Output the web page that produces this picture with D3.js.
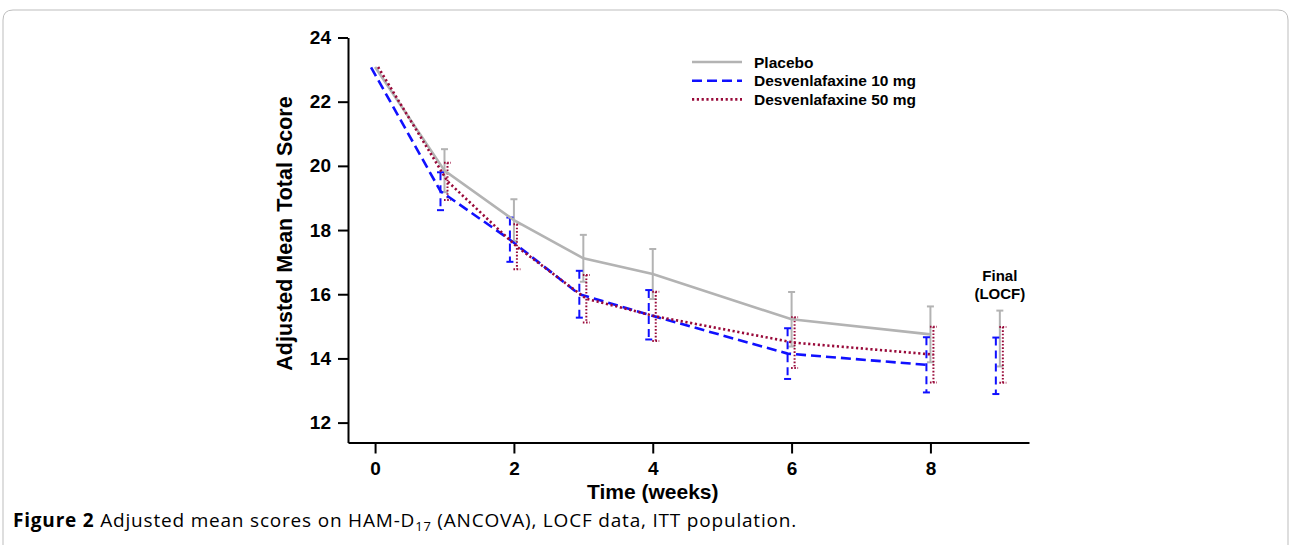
<!DOCTYPE html>
<html lang="en">
<head>
<meta charset="UTF-8">
<title>Adjusted mean scores on HAM-D17</title>
<script src="https://d3js.org/d3.v7.min.js"></script>
<style>
    body { margin: 0; background: #fff; }
    svg text { font-family: "Liberation Sans", Arial, sans-serif; }
</style>
</head>
<body>
<svg id="chart" width="1292" height="545"></svg>
<script>
// weeks with connected lines, plus the final LOCF point
const weeks = [0, 1, 2, 3, 4, 6, 8];
const finalWeek = 9;
const xTicks = [0, 2, 4, 6, 8];
const yTicks = [12, 14, 16, 18, 20, 22, 24];

const placebo    = [23.08, 19.85, 18.31, 17.12, 16.63, 15.22, 14.75];
const placeboErr = [0, 0.67, 0.65, 0.73, 0.78, 0.85, 0.87];
const dvs10      = [23.07, 19.21, 17.70, 16.00, 15.36, 14.15, 13.80];
const dvs10Err   = [0, 0.59, 0.69, 0.73, 0.77, 0.79, 0.86];
const dvs50      = [23.08, 19.52, 17.48, 15.86, 15.31, 14.49, 14.12];
const dvs50Err   = [0, 0.58, 0.70, 0.74, 0.77, 0.79, 0.87];

// final (LOCF) values: placebo, 10 mg, 50 mg
const finalMeans = [14.62, 13.77, 14.11];
const finalErrs  = [0.87, 0.88, 0.87];

const seriesNames = ["Placebo", "Desvenlafaxine 10 mg", "Desvenlafaxine 50 mg"];

const svg = d3.select("#chart");

// figure frame
svg.append("path")
    .attr("d", "M3,545 L3,20 Q3,10 13,10 L1278,10 Q1288,10 1288,20 L1288,545")
    .attr("fill", "none")
    .attr("stroke", "#bdbdbd")
    .attr("stroke-width", 1);

const x = d3.scaleLinear().domain([-0.39, 9.42]).range([348, 1029]);
const y = d3.scaleLinear().domain([11.38, 24]).range([442.5, 37.5]);

const styles = [
    { color: "#b3b3b3", dash: null,  width: 2.6, off: 0 },
    { color: "#1010ff", dash: "10,5", width: 2.6, off: -4 },
    { color: "#990a3a", dash: "2.2,2.6", width: 2.6, off: 3 }
];
const means = [placebo, dvs10, dvs50];
const errs = [placeboErr, dvs10Err, dvs50Err];

// axes
const yAxis = svg.append("g")
    .attr("transform", "translate(348,0)")
    .call(d3.axisLeft(y).tickValues(yTicks).tickSize(10).tickSizeOuter(0).tickPadding(7));
const xAxis = svg.append("g")
    .attr("transform", "translate(0,442.5)")
    .call(d3.axisBottom(x).tickValues(xTicks).tickSize(11).tickSizeOuter(0).tickPadding(8));

[xAxis, yAxis].forEach(a => {
    a.selectAll("path, line").attr("stroke", "#000").attr("stroke-width", 2);
    a.selectAll("text")
        .attr("font-size", 19)
        .attr("font-weight", "bold")
        .attr("fill", "#000")
        .style("font-family", "'Liberation Sans', Arial, sans-serif");
});

svg.append("text")
    .attr("x", x(4))
    .attr("y", 499)
    .attr("text-anchor", "middle")
    .attr("font-size", 21)
    .attr("font-weight", "bold")
    .text("Time (weeks)");

svg.append("text")
    .attr("transform", "translate(292,233.5) rotate(-90)")
    .attr("text-anchor", "middle")
    .attr("font-size", 21.5)
    .attr("font-weight", "bold")
    .text("Adjusted Mean Total Score");

// error bars
function errorBar(g, cx, m, e, st) {
    if (!e) return;
    const sw = 2;
    g.append("line")
        .attr("x1", cx).attr("x2", cx)
        .attr("y1", y(m + e)).attr("y2", y(m - e))
        .attr("stroke", st.color).attr("stroke-width", sw)
        .attr("stroke-dasharray", st.dash ? (st.off < 0 ? "8,5" : "1.6,1.8") : null);
    [m + e, m - e].forEach(v => {
        g.append("line")
            .attr("x1", cx - 3.5).attr("x2", cx + 3.5)
            .attr("y1", y(v)).attr("y2", y(v))
            .attr("stroke", st.color).attr("stroke-width", sw)
            .attr("stroke-dasharray", st.dash && st.off > 0 ? "1.6,1.6" : null);
    });
}

const line = d3.line();

means.forEach((vals, i) => {
    const st = styles[i];
    const g = svg.append("g");
    weeks.forEach((w, j) => errorBar(g, x(w) + st.off, vals[j], errs[i][j], st));
    errorBar(g, x(finalWeek) + st.off, finalMeans[i], finalErrs[i], st);
});

// lines drawn on top: placebo first, then 10 mg, then 50 mg
means.forEach((vals, i) => {
    const st = styles[i];
    svg.append("path")
        .attr("d", line(weeks.map((w, j) => [x(w) + st.off, y(vals[j])])))
        .attr("fill", "none")
        .attr("stroke", st.color)
        .attr("stroke-width", st.width)
        .attr("stroke-dasharray", st.dash);
});

// Final (LOCF) label
svg.append("text")
    .attr("text-anchor", "middle")
    .attr("font-size", 15)
    .attr("font-weight", "bold")
    .selectAll("tspan")
    .data(["Final", "(LOCF)"])
    .join("tspan")
    .attr("x", x(finalWeek))
    .attr("y", (d, i) => 281 + i * 18)
    .text(d => d);

// legend
const legend = svg.append("g");
seriesNames.forEach((name, i) => {
    const ly = 62 + i * 18.7;
    legend.append("line")
        .attr("x1", 692).attr("x2", 742)
        .attr("y1", ly).attr("y2", ly)
        .attr("stroke", styles[i].color)
        .attr("stroke-width", 2.6)
        .attr("stroke-dasharray", styles[i].dash);
    legend.append("text")
        .attr("x", 754)
        .attr("y", ly + 5.5)
        .attr("font-size", 15.5)
        .attr("font-weight", "bold")
        .text(name);
});

// caption, stretched to the width it has in the figure
const cap = svg.append("text")
    .attr("x", 13)
    .attr("y", 527)
    .attr("font-size", 19)
    .style("font-family", "'Open Sans', 'Noto Sans', sans-serif");
cap.append("tspan").attr("font-weight", "bold").text("Figure 2");
cap.append("tspan").text(" Adjusted mean scores on HAM-D");
cap.append("tspan").attr("font-size", 13).attr("dy", 4).text("17");
cap.append("tspan").attr("dy", -4).text(" (ANCOVA), LOCF data, ITT population.");
const capLen = cap.node().getComputedTextLength();
const capChars = cap.text().length;
cap.style("letter-spacing", ((784 - capLen) / capChars) + "px");
</script>
</body>
</html>
